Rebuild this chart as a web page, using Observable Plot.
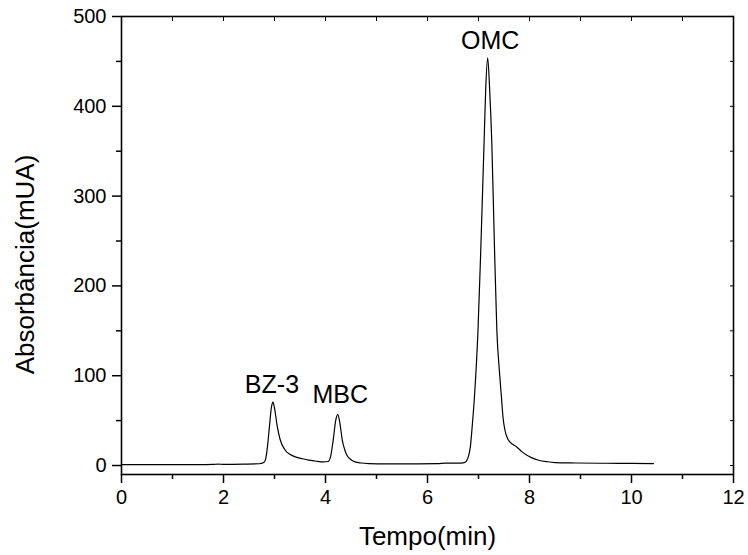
<!DOCTYPE html>
<html>
<head>
<meta charset="utf-8">
<script src="https://cdn.jsdelivr.net/npm/d3@7"></script>
<script src="https://cdn.jsdelivr.net/npm/@observablehq/plot@0.6"></script>
<style>
  html, body { margin: 0; padding: 0; background: #fff; }
  #chart svg { display: block; }
</style>
</head>
<body>
<div id="chart"></div>
<script>
// Retention time (min) and absorbance (mUA)
const tempo = [0, 0.5, 1.0, 1.5, 1.8, 1.9, 2.0, 2.4, 2.7, 2.78, 2.82, 2.86, 2.9, 2.94, 2.97, 3.0, 3.05, 3.11, 3.21, 3.3, 3.41, 3.55, 3.67, 3.8, 3.96, 4.05, 4.1, 4.15, 4.2, 4.24, 4.28, 4.33, 4.38, 4.42, 4.5, 4.58, 4.7, 4.85, 5.2, 5.8, 6.2, 6.35, 6.6, 6.72, 6.76, 6.8, 6.84, 6.87, 6.92, 6.99, 7.05, 7.11, 7.14, 7.18, 7.22, 7.26, 7.31, 7.36, 7.41, 7.45, 7.48, 7.52, 7.57, 7.62, 7.75, 7.85, 7.95, 8.05, 8.18, 8.35, 8.5, 8.9, 9.5, 10.0, 10.43];
const absorbancia = [1.0, 1.0, 1.0, 1.0, 1.2, 1.6, 1.2, 1.5, 2.0, 3, 6, 20, 43, 65, 70.7, 64, 45, 29, 17, 12.5, 9.6, 7.5, 6, 5, 4, 4.5, 10, 28, 50, 57, 48, 28, 17, 11.4, 6.5, 4, 2.8, 2.2, 1.8, 1.8, 2.0, 2.6, 2.6, 3.2, 5, 9.6, 20.7, 39, 76, 150, 250, 361, 417, 454, 417, 361, 250, 150, 105, 76, 54, 39, 30, 26, 20.7, 15.5, 11.4, 8.5, 5.9, 4.2, 3.3, 2.8, 2.5, 2.4, 2.2];

// Peak labels
const peakNames = ["BZ-3", "MBC", "OMC"];
const peakX = [2.95, 4.29, 7.23];
const peakY = [80.7, 69.6, 464];

// Axis ticks
const xMajor = [0, 2, 4, 6, 8, 10, 12];
const xMinor = [1, 3, 5, 7, 9, 11];
const yMajor = [0, 100, 200, 300, 400, 500];
const yMinor = [50, 150, 250, 350, 450];
const xAll = [0, 1, 2, 3, 4, 5, 6, 7, 8, 9, 10, 11, 12];
const yAll = [0, 50, 100, 150, 200, 250, 300, 350, 400, 450, 500];

const series = tempo.map((t, i) => ({t, a: absorbancia[i]}));
const labels = peakNames.map((n, i) => ({n, x: peakX[i], y: peakY[i]}));

const font = "'Liberation Sans', Arial, Helvetica, sans-serif";

const chart = Plot.plot({
  width: 748,
  height: 555,
  marginLeft: 121,
  marginRight: 15,
  marginTop: 16,
  marginBottom: 81,
  style: {fontFamily: font, color: "#000", background: "#fff"},
  x: {domain: [0, 12]},
  y: {domain: [-10, 500]},
  marks: [
    Plot.axisX(xMajor, {anchor: "bottom", tickSize: 9, tickPadding: 6, fontSize: 20, label: "Tempo(min)", labelAnchor: "center", labelArrow: "none", labelOffset: 70, strokeWidth: 1.5}),
    Plot.axisX(xMinor, {anchor: "bottom", tickSize: 5, tickFormat: () => "", label: null, strokeWidth: 1.5}),
    Plot.axisX(xAll, {anchor: "top", tickSize: -4, tickFormat: () => "", label: null, strokeWidth: 1}),
    Plot.axisY(yMajor, {anchor: "left", tickSize: 9, tickPadding: 6, fontSize: 20, label: "Absorbância(mUA)", labelAnchor: "center", labelArrow: "none", labelOffset: 106, strokeWidth: 1.5}),
    Plot.axisY(yMinor, {anchor: "left", tickSize: 5, tickFormat: () => "", label: null, strokeWidth: 1.5}),
    Plot.axisY(yAll, {anchor: "right", tickSize: -4, tickFormat: () => "", label: null, strokeWidth: 1}),
    Plot.frame({stroke: "#000", strokeWidth: 1.6}),
    Plot.line(series, {x: "t", y: "a", stroke: "#000", strokeWidth: 1.2, curve: "monotone-x"}),
    Plot.text(labels, {x: "x", y: "y", text: "n", fontSize: 25, fill: "#000", lineAnchor: "bottom", textAnchor: "middle"})
  ]
});

// enlarge axis title fonts and nudge the y title downward like the original
d3.select(chart).selectAll("[aria-label='x-axis label'] text").attr("font-size", 26);
d3.select(chart).selectAll("[aria-label='y-axis label'] text").attr("font-size", 26).attr("dx", -19);
document.getElementById("chart").appendChild(chart);
</script>
</body>
</html>
